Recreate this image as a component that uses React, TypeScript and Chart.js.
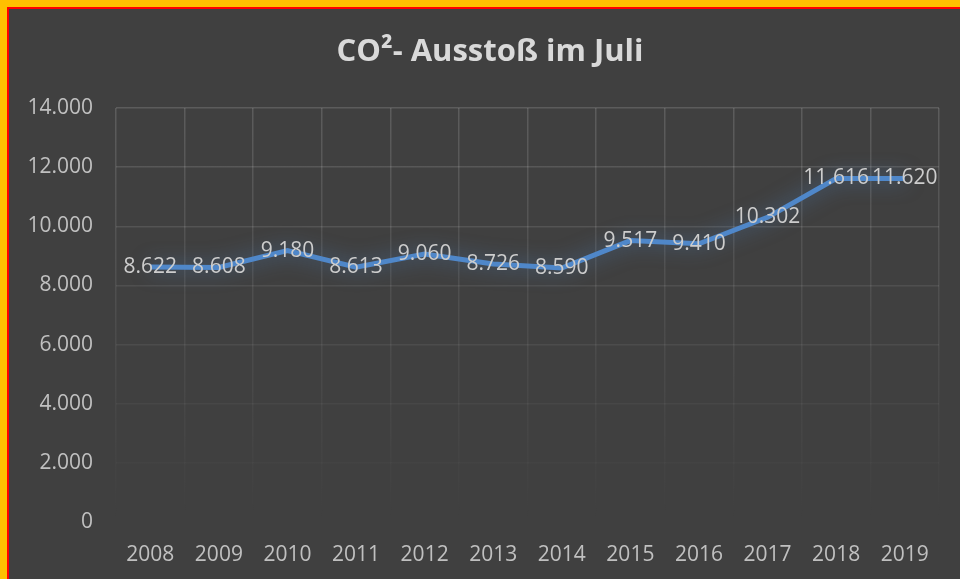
import React, { useEffect, useRef } from "react";
import { Chart, registerables } from "chart.js";

Chart.register(...registerables);

const years = ["2008", "2009", "2010", "2011", "2012", "2013", "2014", "2015", "2016", "2017", "2018", "2019"];
const co2Values = [8622, 8608, 9180, 8613, 9060, 8726, 8590, 9517, 9410, 10302, 11616, 11620];
const yMin = 0;
const yMax = 14000;
const yStep = 2000;
const titleText = "CO²- Ausstoß im Juli";

const fmt = (v: number) => String(v).replace(/\B(?=(\d{3})+(?!\d))/g, ".");

const FONT = "'Open Sans', 'DejaVu Sans', sans-serif";

function gridColor(c: any) {
  const chart = c.chart;
  const a = chart.chartArea;
  if (!a) return "rgba(255,255,255,0.13)";
  const g = chart.ctx.createLinearGradient(0, a.top, 0, a.bottom);
  g.addColorStop(0, "rgba(255,255,255,0.15)");
  g.addColorStop(0.75, "rgba(255,255,255,0.035)");
  g.addColorStop(1, "rgba(255,255,255,0)");
  return g;
}

const glowPlugin = {
  id: "glow",
  beforeDatasetDraw(chart: any) {
    const ctx = chart.ctx;
    ctx.save();
    ctx.shadowColor = "rgba(80,140,210,0.6)";
    ctx.shadowBlur = 20;
  },
  afterDatasetDraw(chart: any) {
    chart.ctx.restore();
  },
};

const labelPlugin = {
  id: "valueLabels",
  afterDatasetsDraw(chart: any) {
    const ctx = chart.ctx;
    const meta = chart.getDatasetMeta(0);
    ctx.save();
    ctx.font = `21px ${FONT}`;
    ctx.fillStyle = "#cdcdcd";
    ctx.textAlign = "center";
    ctx.textBaseline = "middle";
    meta.data.forEach((pt: any, i: number) => {
      ctx.fillText(fmt(co2Values[i]), pt.x, pt.y);
    });
    ctx.restore();
  },
};

// Title drawn centred on the full (uncropped) chart width
const titlePlugin = {
  id: "customTitle",
  afterDraw(chart: any) {
    const ctx = chart.ctx;
    ctx.save();
    ctx.font = `bold 31px ${FONT}`;
    ctx.fillStyle = "#d9d9d9";
    ctx.textAlign = "center";
    ctx.textBaseline = "middle";
    ctx.fillText(titleText, 481, 43);
    ctx.restore();
  },
};

export default function App() {
  const ref = useRef<HTMLCanvasElement | null>(null);

  useEffect(() => {
    if (!ref.current) return;
    const chart = new Chart(ref.current, {
      type: "line",
      data: {
        labels: years,
        datasets: [
          {
            data: co2Values,
            borderColor: "#4f87c9",
            borderWidth: 5,
            pointRadius: 0,
            tension: 0,
            fill: false,
          },
        ],
      },
      plugins: [glowPlugin, labelPlugin, titlePlugin],
      options: {
        responsive: false,
        animation: false,
        layout: { padding: { left: 0, right: 32, top: 99, bottom: 0 } },
        plugins: {
          legend: { display: false },
          tooltip: { enabled: false },
          title: { display: false },
        },
        scales: {
          x: {
            offset: true,
            grid: { offset: true, color: gridColor, lineWidth: 1.5, drawTicks: false },
            border: { display: false },
            ticks: { color: "#c0c0c0", font: { family: FONT, size: 21 }, padding: 20, maxRotation: 0 },
            afterFit: (s: any) => {
              s.height = 57;
            },
          },
          y: {
            min: yMin,
            max: yMax,
            grid: { color: gridColor, lineWidth: 1.5, drawTicks: false },
            border: { display: false },
            ticks: {
              stepSize: yStep,
              color: "#c0c0c0",
              font: { family: FONT, size: 21 },
              padding: 23,
              callback: (v: any) => fmt(Number(v)),
            },
            afterFit: (s: any) => {
              s.width = 107;
            },
          },
        },
      },
    });
    return () => chart.destroy();
  }, []);

  return (
    <div style={{ position: "absolute", left: 0, top: 0, width: 960, height: 579, overflow: "hidden", background: "#FFC000" }}>
      <div style={{ position: "absolute", left: 7, top: 7, width: 1000, height: 1000, background: "#FF0000" }}>
        <div style={{ position: "absolute", left: 2, top: 2, width: 1000, height: 1000, background: "#404040" }}>
          <canvas ref={ref} width={962} height={570} style={{ display: "block" }} />
        </div>
      </div>
    </div>
  );
}
